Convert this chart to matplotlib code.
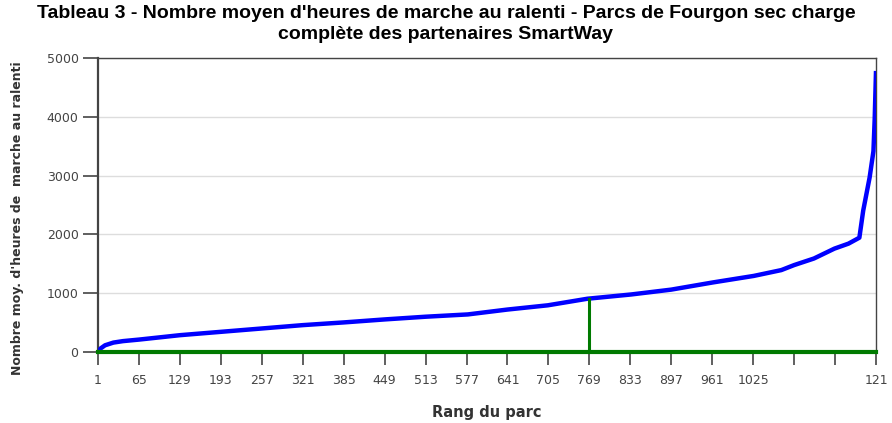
import matplotlib.pyplot as plt
import numpy as np

# values (rank of fleet, average idle hours)
rank = [1, 5, 12, 25, 40, 65, 129, 193, 257, 321, 385, 449, 513, 579, 641,
        704, 766, 834, 897, 962, 1026, 1069, 1089, 1120, 1152, 1174, 1191,
        1197, 1202, 1207, 1213, 1215, 1217]
hours = [0, 60, 114, 160, 185, 211, 286, 343, 400, 457, 503, 554, 600, 639, 722,
         794, 906, 978, 1061, 1183, 1294, 1393, 1478, 1590, 1758, 1843, 1944,
         2404, 2685, 2966, 3416, 3978, 4780]

marker_rank = 768
marker_value = 905

x_ticks = [1, 65, 129, 193, 257, 321, 385, 449, 513, 577, 641, 705, 769, 833,
           897, 961, 1025, 1089, 1153, 1217]
x_labels = [str(t) for t in x_ticks[:17]] + ['', '', '121']
y_ticks = [0, 1000, 2000, 3000, 4000, 5000]

title = ("Tableau 3 - Nombre moyen d'heures de marche au ralenti - Parcs de Fourgon sec charge\n"
         "complète des partenaires SmartWay")

fig = plt.figure(figsize=(8.92, 4.23), dpi=100)
ax = fig.add_axes([98 / 892, 1 - 352 / 423, 778 / 892, 294 / 423])

ax.plot(rank, hours, color='#0000ff', lw=3.2, solid_capstyle='butt', zorder=3)
ax.plot([rank[0], rank[-1]], [0, 0], color='#007a00', lw=3.0, zorder=4, clip_on=False)
ax.plot([marker_rank, marker_rank], [0, marker_value], color='#007a00', lw=2.2, zorder=4)

ax.set_xlim(rank[0], rank[-1])
ax.set_ylim(0, 5000)
ax.set_xticks(x_ticks)
ax.set_xticklabels(x_labels)
ax.set_yticks(y_ticks)

ax.grid(True, axis='y', color='#dddddd', lw=1.0, zorder=0)
for s in ['left', 'top', 'right']:
    ax.spines[s].set_color('#444444')
ax.spines['left'].set_linewidth(1.6)
ax.spines['top'].set_linewidth(1.0)
ax.spines['right'].set_linewidth(1.0)
ax.spines['bottom'].set_visible(False)

ax.tick_params(axis='both', colors='#444444', labelcolor='#444444', labelsize=9, width=1.2)
ax.tick_params(axis='y', length=11, pad=3)
ax.tick_params(axis='x', length=9, pad=7)

ax.set_xlabel('Rang du parc', fontsize=10.5, fontweight='bold', color='#333333', labelpad=13)
ax.set_ylabel("Nombre moy. d'heures de  marche au ralenti", fontsize=9,
              fontweight='bold', color='#333333')
ax.yaxis.set_label_coords(-74 / 778, 0.455)

fig.text(0.5, 1 - 5 / 423, title, ha='center', va='top', fontsize=14, fontweight='bold',
         family=['Liberation Sans Narrow', 'Liberation Sans'], linespacing=1.3)

fig.savefig('out.png', dpi=100)
